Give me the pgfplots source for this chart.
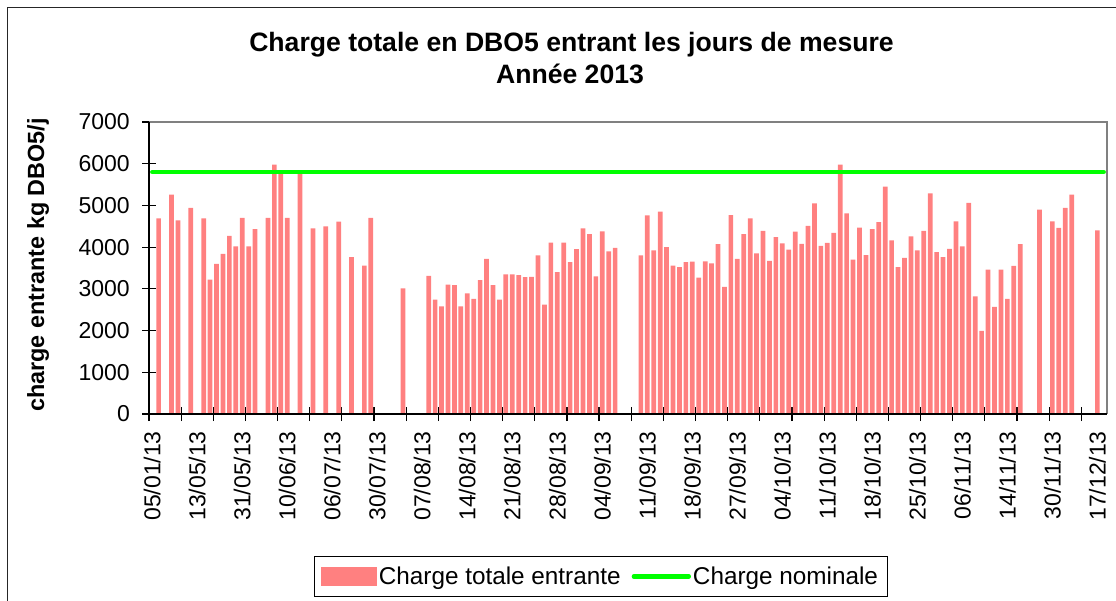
\documentclass[border=0pt]{standalone}
\usepackage{pgfplots}
\pgfplotsset{compat=1.18}
\usepackage{pgfplotstable}
\usepackage{fontspec}
\setmainfont{Liberation Sans}
\definecolor{barcol}{HTML}{FF8080}
\definecolor{linecol}{HTML}{00FF00}
\pgfplotstableread{
idx val
1 4690
3 5260
4 4640
6 4940
8 4690
9 3220
10 3600
11 3840
12 4270
13 4020
14 4700
15 4020
16 4430
18 4700
19 5980
20 5770
21 4700
23 5780
25 4450
27 4500
29 4610
31 3760
33 3560
34 4700
39 3010
43 3310
44 2740
45 2580
46 3100
47 3090
48 2580
49 2890
50 2760
51 3210
52 3720
53 3090
54 2740
55 3350
56 3350
57 3330
58 3280
59 3290
60 3800
61 2620
62 4110
63 3400
64 4110
65 3640
66 3950
67 4450
68 4310
69 3300
70 4380
71 3900
72 3980
76 3800
77 4760
78 3920
79 4850
80 4000
81 3560
82 3520
83 3640
84 3650
85 3270
86 3660
87 3610
88 4070
89 3050
90 4770
91 3720
92 4310
93 4690
94 3850
95 4390
96 3670
97 4240
98 4090
99 3940
100 4370
101 4080
102 4510
103 5050
104 4030
105 4100
106 4340
107 5980
108 4810
109 3700
110 4470
111 3810
112 4430
113 4600
114 5450
115 4160
116 3520
117 3740
118 4260
119 3920
120 4390
121 5290
122 3880
123 3760
124 3960
125 4620
126 4020
127 5060
128 2820
129 1990
130 3460
131 2570
132 3460
133 2760
134 3550
135 4070
138 4900
140 4620
141 4460
142 4940
143 5260
147 4400
}\charge
\begin{document}
\begin{tikzpicture}[x=1pt,y=1pt]
\useasboundingbox (0,0) rectangle (1116,600);
\clip (0,0) rectangle (1116,600);
\draw[line width=1.3pt, black!85] (7.5,-20) -- (7.5,592.5) -- (1140,592.5);
\node[anchor=base, font=\fontsize{26.6}{30}\selectfont\bfseries] at (571.5,548.3) {Charge totale en DBO5 entrant les jours de mesure};
\node[anchor=base, font=\fontsize{26.6}{30}\selectfont\bfseries] at (570,516) {Année 2013};
\node[rotate=90, anchor=base, font=\fontsize{23.4}{28}\selectfont\bfseries] at (44,335) {charge entrante kg DBO5/j};
\begin{axis}[
  at={(149pt,186pt)}, anchor=south west,
  scale only axis, width=958pt, height=292pt,
  xmin=-0.5, xmax=148.5, ymin=0, ymax=7000,
  clip=false,
  axis line style={draw=none},
  xtick pos=bottom, ytick pos=left,
  ytick={0,1000,...,7000},
  xtick={-0.5,4.5,...,144.5},
  xticklabels={},
  extra x ticks={0,7,...,147},
  extra x tick labels={05/01/13,13/05/13,31/05/13,10/06/13,06/07/13,30/07/13,07/08/13,14/08/13,21/08/13,28/08/13,04/09/13,11/09/13,18/09/13,27/09/13,04/10/13,11/10/13,18/10/13,25/10/13,06/11/13,14/11/13,30/11/13,17/12/13},
  extra x tick style={major tick length=0pt, xticklabel style={rotate=90, anchor=east, xshift=-17pt, inner sep=0pt}},
  tick align=center,
  major tick length=14pt,
  tick style={black, line width=1.2pt},
  yticklabel style={/pgf/number format/1000 sep={}, /pgf/number format/assume math mode=true, anchor=east, inner sep=0pt, xshift=-12pt},
  tick label style={font=\fontsize{23}{27}\selectfont},
  legend style={at={(0.1722,-0.4863)}, anchor=north west, draw=black, line width=0.8pt,
    font=\fontsize{24.3}{28}\selectfont, legend columns=2, inner xsep=7pt, inner ysep=8.5pt,
    /tikz/every even column/.append style={column sep=9pt}},
  legend cell align=left,
]
\addplot[ybar, bar width=4.7pt, fill=barcol, draw=none,
  legend image code/.code={\fill[barcol] (0pt,-9.6pt) rectangle (55.5pt,9.6pt);}]
  table[x=idx, y=val] {\charge};
\addlegendentry{Charge totale entrante}
\addplot[linecol, line width=4.3pt, line cap=round,
  legend image code/.code={\draw[linecol, line width=4.3pt, line cap=round] (0pt,0pt) -- (55pt,0pt);}]
  coordinates {(0,5800) (148,5800)};
\addlegendentry{Charge nominale}
\draw[gray, line width=1.5pt] (rel axis cs:0,1) -- (rel axis cs:1,1) -- (rel axis cs:1,0);
\draw[black, line width=1.5pt] (rel axis cs:0,1) -- (rel axis cs:0,0) -- (rel axis cs:1,0);
\end{axis}
\end{tikzpicture}
\end{document}
